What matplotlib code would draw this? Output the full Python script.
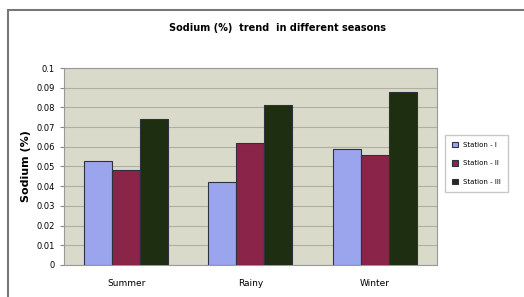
import matplotlib.pyplot as plt
import numpy as np
from matplotlib.patches import Rectangle

seasons = ['Summer', 'Rainy', 'Winter']
station_1 = [0.053, 0.042, 0.059]
station_2 = [0.048, 0.062, 0.056]
station_3 = [0.074, 0.081, 0.088]
labels = ['Station - I', 'Station - II', 'Station - III']

fig = plt.figure(figsize=(5.24, 2.97), dpi=100)
fig.patch.set_facecolor('white')

# outer chart border
fig.patches.append(Rectangle((0.016, -0.02), 1.0, 0.985, transform=fig.transFigure,
                             fill=False, edgecolor='#777777', linewidth=1.5))

ax = fig.add_axes([0.122, 0.108, 0.712, 0.663])
ax.set_facecolor('#dadacb')

x = np.arange(len(seasons))
w = 0.225
colors = ['#9aa5ee', '#8a2448', '#1e2e10']
for i, (vals, c) in enumerate(zip([station_1, station_2, station_3], colors)):
    ax.bar(x + (i - 1) * w, vals, w, color=c, edgecolor='#303040', linewidth=0.8,
           label=labels[i], zorder=3)

ax.set_xlim(-0.5, 2.5)
ax.set_ylim(0, 0.1)
ax.set_yticks(np.arange(0, 0.101, 0.01))
ax.set_yticklabels(['0', '0.01', '0.02', '0.03', '0.04', '0.05', '0.06', '0.07', '0.08', '0.09', '0.1'])
ax.yaxis.grid(True, color='#b0b0a0', linewidth=0.8, zorder=0)
ax.set_xticks(x)
ax.set_xticklabels(seasons, fontsize=6.5)
ax.tick_params(axis='y', labelsize=6, length=3, color='#888888')
ax.tick_params(axis='x', length=0, pad=10)
for s in ['top', 'right', 'left', 'bottom']:
    ax.spines[s].set_color('#999999')

ax.set_ylabel('Sodium (%)', fontsize=8, fontweight='bold', labelpad=4)
fig.text(0.53, 0.905, 'Sodium (%)  trend  in different seasons', ha='center',
         va='center', fontsize=7, fontweight='bold')

fig.legend(loc='center left', bbox_to_anchor=(0.843, 0.45), fontsize=5,
           frameon=True, fancybox=False, edgecolor='#bbbbbb', handlelength=0.8,
           handleheight=0.8, labelspacing=1.8, borderpad=1.0)

fig.savefig('out.png', dpi=100)
